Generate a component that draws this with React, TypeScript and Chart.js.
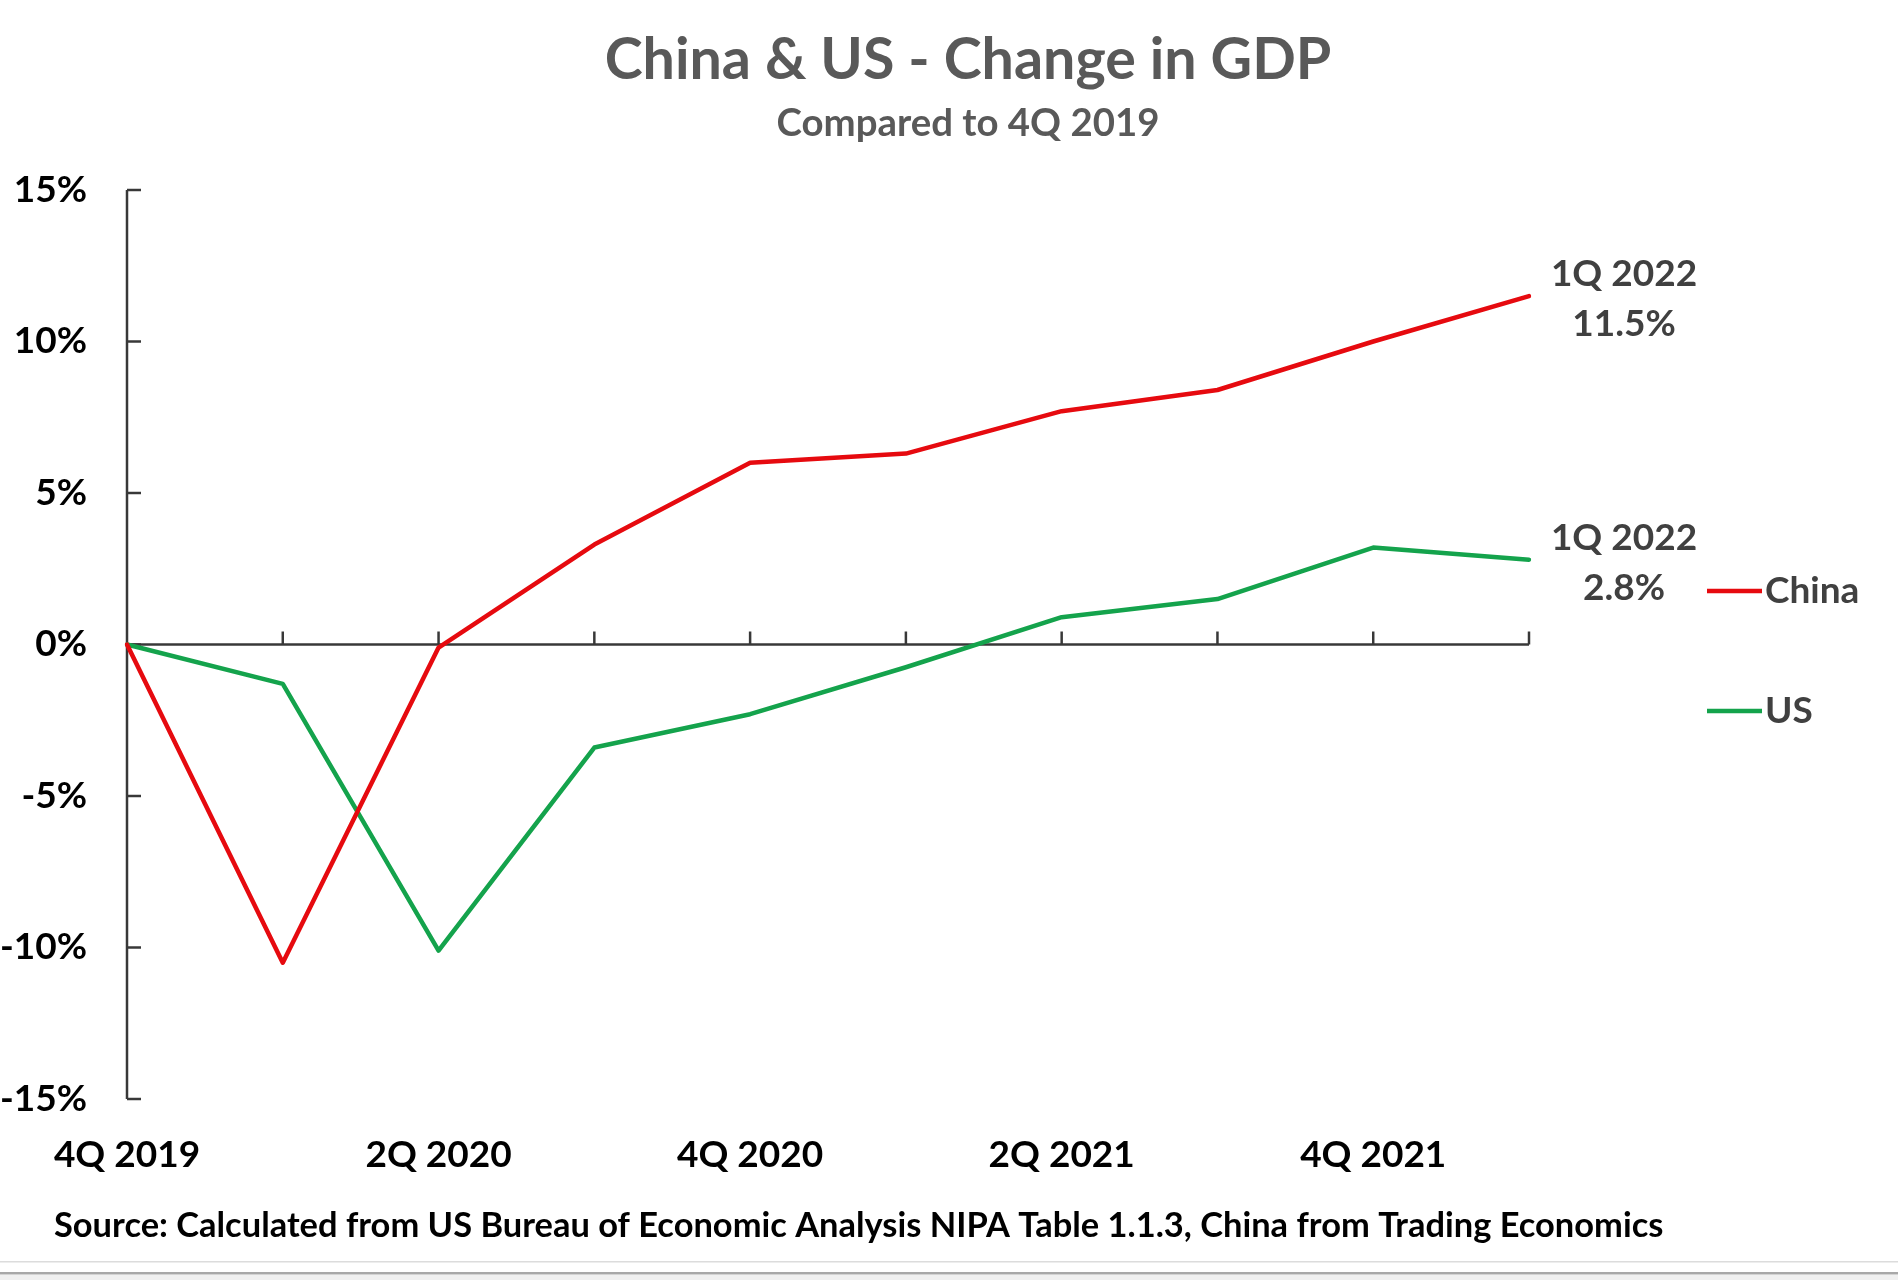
import React, { useEffect, useRef } from 'react';
import { Chart, registerables } from 'chart.js';

Chart.register(...registerables);

// ---- data ----
const quarters = ['4Q 2019', '1Q 2020', '2Q 2020', '3Q 2020', '4Q 2020', '1Q 2021', '2Q 2021', '3Q 2021', '4Q 2021', '1Q 2022'];
const chinaValues = [0, -10.5, -0.1, 3.3, 6.0, 6.3, 7.7, 8.4, 10.0, 11.5];
const usValues = [0, -1.3, -10.1, -3.4, -2.3, -0.75, 0.9, 1.5, 3.2, 2.8];
const yTickValues = [-15, -10, -5, 0, 5, 10, 15];
const shownXLabels = ['4Q 2019', '2Q 2020', '4Q 2020', '2Q 2021', '4Q 2021'];
const seriesNames = ['China', 'US'];
const titleText = 'China & US - Change in GDP';
const subtitleText = 'Compared to 4Q 2019';
const sourceText = 'Source: Calculated from US Bureau of Economic Analysis NIPA Table 1.1.3, China from Trading Economics';

// ---- style ----
const FONT = 'Lato, "Open Sans", sans-serif';
const RED = '#E60A0F';
const GREEN = '#14A34C';
const AXIS = '#383838';
const GRAYTEXT = '#404040';
const TITLEGRAY = '#595959';

function fitSize(ctx: CanvasRenderingContext2D, text: string, targetW: number) {
  ctx.font = `bold 100px ${FONT}`;
  const w = ctx.measureText(text).width;
  return (100 * targetW) / w;
}

const decor = {
  id: 'decor',
  beforeDraw(chart: any) {
    const ctx = chart.ctx as CanvasRenderingContext2D;
    ctx.save();
    ctx.fillStyle = '#fff';
    ctx.fillRect(0, 0, chart.width, chart.height);
    ctx.restore();
  },
  beforeDatasetsDraw(chart: any) {
    const ctx = chart.ctx as CanvasRenderingContext2D;
    const x = chart.scales.x;
    const y = chart.scales.y;
    const area = chart.chartArea;
    ctx.save();
    ctx.strokeStyle = AXIS;
    ctx.lineWidth = 2.5;
    // y axis line
    ctx.beginPath();
    ctx.moveTo(area.left, y.getPixelForValue(yTickValues[yTickValues.length - 1]));
    ctx.lineTo(area.left, y.getPixelForValue(yTickValues[0]));
    ctx.stroke();
    // y ticks (inward)
    yTickValues.forEach((v) => {
      const py = y.getPixelForValue(v);
      ctx.beginPath();
      ctx.moveTo(area.left, py);
      ctx.lineTo(area.left + 14, py);
      ctx.stroke();
    });
    // zero line
    const y0 = y.getPixelForValue(0);
    ctx.beginPath();
    ctx.moveTo(x.getPixelForValue(0), y0);
    ctx.lineTo(x.getPixelForValue(quarters.length - 1), y0);
    ctx.stroke();
    // x ticks (upward)
    quarters.forEach((_, i) => {
      if (i === 0) return;
      const px = x.getPixelForValue(i);
      ctx.beginPath();
      ctx.moveTo(px, y0);
      ctx.lineTo(px, y0 - 13);
      ctx.stroke();
    });
    ctx.restore();
  },
  afterDraw(chart: any) {
    const ctx = chart.ctx as CanvasRenderingContext2D;
    ctx.save();
    // title & subtitle
    ctx.textAlign = 'center';
    ctx.textBaseline = 'alphabetic';
    ctx.fillStyle = TITLEGRAY;
    let s = fitSize(ctx, titleText, 727);
    ctx.font = `bold ${s}px ${FONT}`;
    ctx.fillText(titleText, 968, 79);
    s = fitSize(ctx, subtitleText, 383);
    ctx.font = `bold ${s}px ${FONT}`;
    ctx.fillText(subtitleText, 968, 136);

    // end-of-line annotations
    const lastIdx = quarters.length - 1;
    ctx.fillStyle = GRAYTEXT;
    ctx.font = `bold 37px ${FONT}`;
    ctx.textBaseline = 'middle';
    chart.data.datasets.forEach((ds: any, di: number) => {
      const meta = chart.getDatasetMeta(di);
      const pt = meta.data[lastIdx];
      const v = ds.data[lastIdx] as number;
      const cx = pt.x + 95;
      ctx.fillText(quarters[lastIdx], cx, pt.y - 22);
      ctx.fillText(`${v.toFixed(1)}%`, cx, pt.y + 28);
    });

    // legend
    const legendY = [591, 711];
    ctx.textAlign = 'left';
    chart.data.datasets.forEach((ds: any, di: number) => {
      const ly = legendY[di];
      ctx.strokeStyle = ds.borderColor;
      ctx.lineWidth = 4.5;
      ctx.lineCap = 'butt';
      ctx.beginPath();
      ctx.moveTo(1707, ly);
      ctx.lineTo(1762, ly);
      ctx.stroke();
      ctx.fillStyle = GRAYTEXT;
      ctx.fillText(seriesNames[di], 1765, ly);
    });

    // source
    ctx.textBaseline = 'alphabetic';
    ctx.fillStyle = '#000';
    s = fitSize(ctx, sourceText, 1610);
    ctx.font = `bold ${s}px ${FONT}`;
    ctx.fillText(sourceText, 54, 1237);

    // bottom frame lines
    ctx.fillStyle = '#dcdcdc';
    ctx.fillRect(0, 1261, chart.width, 1.5);
    ctx.fillStyle = '#a8a8a8';
    ctx.fillRect(0, 1272, chart.width, 2.5);
    ctx.fillStyle = '#f0f0f0';
    ctx.fillRect(0, 1275, chart.width, 5);
    ctx.restore();
  },
};

export default function App() {
  const ref = useRef<HTMLCanvasElement>(null);
  useEffect(() => {
    const canvas = ref.current!;
    const chart = new Chart(canvas, {
      type: 'line',
      data: {
        labels: quarters,
        datasets: [
          {
            label: seriesNames[0],
            data: chinaValues,
            borderColor: RED,
            backgroundColor: RED,
            borderWidth: 4.5,
            pointRadius: 0,
            tension: 0,
            borderCapStyle: 'round',
            borderJoinStyle: 'round',
          },
          {
            label: seriesNames[1],
            data: usValues,
            borderColor: GREEN,
            backgroundColor: GREEN,
            borderWidth: 4.5,
            pointRadius: 0,
            tension: 0,
            borderCapStyle: 'round',
            borderJoinStyle: 'round',
          },
        ],
      },
      options: {
        responsive: false,
        animation: false,
        devicePixelRatio: 1,
        layout: { padding: { left: 0, top: 190, right: 369, bottom: 81 } },
        plugins: {
          legend: { display: false },
          title: { display: false },
          tooltip: { enabled: false },
        },
        scales: {
          x: {
            type: 'category',
            offset: false,
            grid: { display: false, drawTicks: false },
            border: { display: false },
            ticks: {
              autoSkip: false,
              maxRotation: 0,
              minRotation: 0,
              padding: 34,
              color: '#000',
              font: { family: FONT, size: 37, weight: 'bold' },
              callback: (_v: any, i: number) => (shownXLabels.includes(quarters[i]) ? quarters[i] : ''),
            },
            afterFit: (sc: any) => {
              sc.height = 100;
            },
          },
          y: {
            min: -15,
            max: 15,
            grid: { display: false, drawTicks: false },
            border: { display: false },
            ticks: {
              stepSize: 5,
              padding: 40,
              color: '#000',
              font: { family: FONT, size: 37, weight: 'bold' },
              callback: (v: any) => `${v}%`,
            },
            afterFit: (sc: any) => {
              sc.width = 127;
            },
          },
        },
      },
      plugins: [decor],
    } as any);
    return () => chart.destroy();
  }, []);
  return (
    <div style={{ position: 'fixed', left: 0, top: 0, width: 1898, height: 1280, background: '#fff' }}>
      <canvas ref={ref} width={1898} height={1280} style={{ display: 'block', width: 1898, height: 1280 }} />
    </div>
  );
}
